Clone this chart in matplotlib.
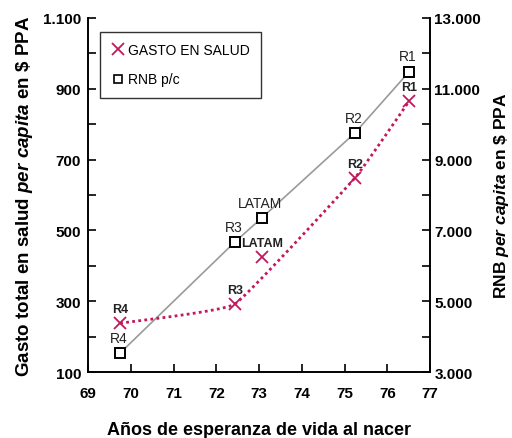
import numpy as np
import matplotlib
matplotlib.use("Agg")
import matplotlib.pyplot as plt
from matplotlib.ticker import FuncFormatter, FixedLocator

plt.rcParams['font.family'] = ['Liberation Sans', 'DejaVu Sans']
plt.rcParams['mathtext.fontset'] = 'custom'
plt.rcParams['mathtext.rm'] = 'Liberation Sans:bold'
plt.rcParams['mathtext.it'] = 'Liberation Sans:bold:italic'
plt.rcParams['mathtext.bf'] = 'Liberation Sans:bold'

# Data
regiones = ["R4", "R3", "LATAM", "R2", "R1"]
esperanza = [69.75, 72.43, 73.06, 75.24, 76.51]
gasto = [238, 292, 425, 648, 865]
rnb = [3540, 6670, 7350, 9750, 11480]

# regions used for the smoothed trend of health spending
tendencia = ["R4", "R3", "R2", "R1"]

x_ticks = [69, 70, 71, 72, 73, 74, 75, 76, 77]
gasto_ticks = [100, 300, 500, 700, 900, 1100]
gasto_minor = [200, 400, 600, 800, 1000]
rnb_ticks = [3000, 5000, 7000, 9000, 11000, 13000]
rnb_minor = [4000, 6000, 8000, 10000, 12000]

CRIMSON = "#C2185B"


def smooth_curve(xs, ys, c=0.15, n=40):
    # cardinal spline through the points (normalised space)
    xs = np.asarray(xs, float)
    ys = np.asarray(ys, float)
    sx = (xs.max() - xs.min())
    sy = (ys.max() - ys.min())
    p = np.column_stack([(xs - xs.min()) / sx, (ys - ys.min()) / sy])
    m = np.zeros_like(p)
    m[1:-1] = c * (p[2:] - p[:-2])
    m[0] = c * 2 * (p[1] - p[0])
    m[-1] = c * 2 * (p[-1] - p[-2])
    out = []
    t = np.linspace(0, 1, n)[:, None]
    h00 = 2 * t ** 3 - 3 * t ** 2 + 1
    h10 = t ** 3 - 2 * t ** 2 + t
    h01 = -2 * t ** 3 + 3 * t ** 2
    h11 = t ** 3 - t ** 2
    for i in range(len(p) - 1):
        out.append(h00 * p[i] + h10 * m[i] + h01 * p[i + 1] + h11 * m[i + 1])
    out = np.vstack(out)
    return out[:, 0] * sx + xs.min(), out[:, 1] * sy + ys.min()


def miles(v, pos):
    return "{:,.0f}".format(v).replace(",", ".")


fig = plt.figure(figsize=(5.12, 4.39), dpi=100)
ax = fig.add_axes([0.172, 0.150, 0.668, 0.807])
ax2 = ax.twinx()

# RNB p/c (right axis)
ax2.plot(esperanza, rnb, color="#9a9a9a", lw=1.2, zorder=1)
ax2.plot(esperanza, rnb, ls="none", marker="s", ms=7, mfc="white", mec="black", mew=1.4, zorder=3)
for r, x, y in zip(regiones, esperanza, rnb):
    ax2.annotate(r, (x, y), xytext=(-1, 6), textcoords="offset points",
                 ha="center", va="bottom", fontsize=10, color="#222222")

# Gasto en salud (left axis)
idx = [regiones.index(r) for r in tendencia]
cx, cy = smooth_curve([esperanza[i] for i in idx], [gasto[i] for i in idx])
ax.plot(cx, cy, color=CRIMSON, lw=2, ls=(0, (1, 1.2)), zorder=2)
ax.plot(esperanza, gasto, ls="none", marker="x", ms=9, mec=CRIMSON, mew=1.3, zorder=3)
for r, x, y in zip(regiones, esperanza, gasto):
    ax.annotate(r, (x, y), xytext=(0, 6), textcoords="offset points",
                ha="center", va="bottom", fontsize=9, fontweight="bold", color="#222222")

ax.set_zorder(ax2.get_zorder() + 1)
ax.patch.set_visible(False)

ax.set_xlim(69, 77)
ax.set_ylim(100, 1100)
ax2.set_ylim(3000, 13000)

ax.xaxis.set_major_locator(FixedLocator(x_ticks))
ax.yaxis.set_major_locator(FixedLocator(gasto_ticks))
ax.yaxis.set_minor_locator(FixedLocator(gasto_minor))
ax2.yaxis.set_major_locator(FixedLocator(rnb_ticks))
ax2.yaxis.set_minor_locator(FixedLocator(rnb_minor))
ax.yaxis.set_major_formatter(FuncFormatter(miles))
ax2.yaxis.set_major_formatter(FuncFormatter(miles))

for a in (ax, ax2):
    a.spines["top"].set_visible(False)
    for s in a.spines.values():
        s.set_linewidth(1.2)
    a.tick_params(which="both", direction="in", width=1.2, length=6, labelsize=11)
    for lab in a.get_xticklabels() + a.get_yticklabels():
        lab.set_fontweight("bold")
ax.tick_params(axis="x", pad=10)
ax.tick_params(axis="y", pad=5)
ax2.tick_params(axis="y", pad=3)

ax.set_xlabel("Años de esperanza de vida al nacer", fontsize=13, fontweight="bold", labelpad=15)
ax.set_ylabel(r"Gasto total en salud $\it{per\ capita}$ en \$ PPA", fontsize=13.5, fontweight="bold", labelpad=6)
ax2.set_ylabel(r"RNB $\it{per\ capita}$ en \$ PPA", fontsize=12.5, fontweight="bold", labelpad=8)

h1, = ax.plot([], [], ls="none", marker="x", ms=8, mec=CRIMSON, mew=1.3)
h2, = ax.plot([], [], ls="none", marker="s", ms=6, mfc="white", mec="black", mew=1.2)
leg = ax.legend([h1, h2], ["GASTO EN SALUD", "RNB p/c"], loc="upper left",
                bbox_to_anchor=(0.035, 0.96), borderaxespad=0, fontsize=10, frameon=True,
                fancybox=False, handletextpad=0.2, handlelength=1.0, borderpad=0.8,
                labelspacing=1.1, edgecolor="black")
leg.get_frame().set_linewidth(1.0)

fig.savefig("out.png", dpi=100)
